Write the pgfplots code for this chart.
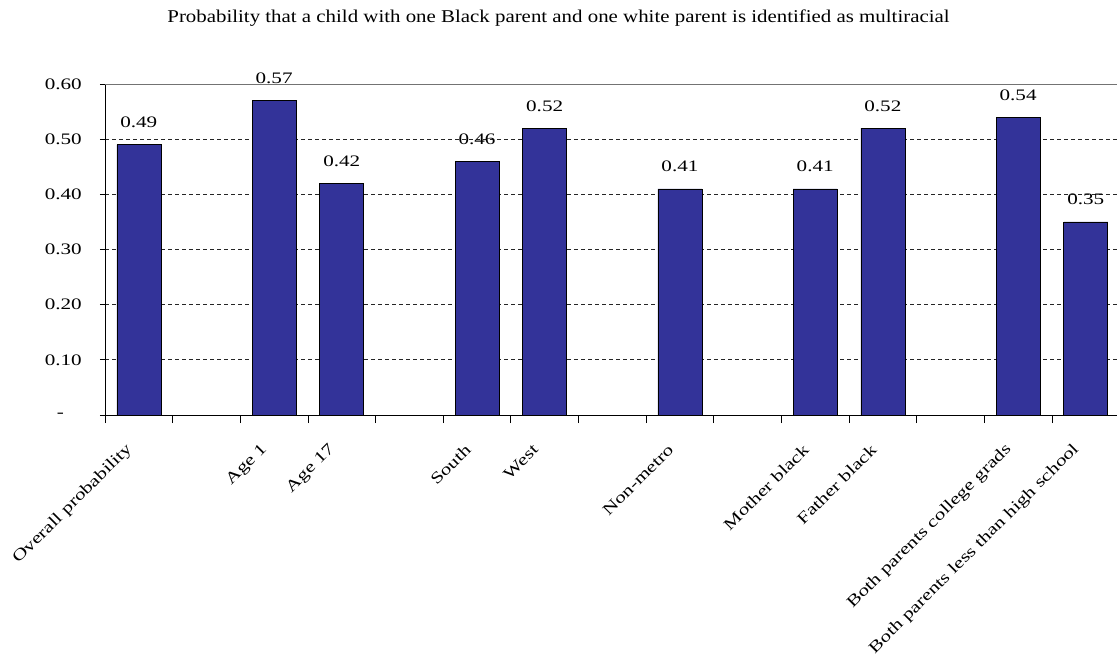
\documentclass[border=0pt]{standalone}
\usepackage{fontspec}
\setmainfont{Liberation Serif}[FakeStretch=1.32]
\newfontfamily\titlefont{Liberation Serif}[FakeStretch=1.16]
\usepackage{pgfplots}
\pgfplotsset{compat=1.18}
\definecolor{barblue}{HTML}{333399}
\begin{document}
\begin{tikzpicture}[x=1pt,y=1pt]
\begin{axis}[
  at={(105pt,252pt)}, anchor=south west,
  scale only axis, width=1014.6pt, height=331pt,
  xmin=-0.5, xmax=14.5, ymin=0, ymax=0.6,
  axis x line*=bottom, axis y line*=left,
  axis line style={black, line width=0.8pt},
  tick align=outside,
  major tick length=5pt, minor tick length=8pt,
  tick style={black, line width=0.8pt},
  ytick={0,0.1,0.2,0.3,0.4,0.5},
  yticklabels={\makebox[25pt][l]{-},0.10,0.20,0.30,0.40,0.50},
  extra y ticks={0.6}, extra y tick labels={0.60},
  extra y tick style={major grid style={solid, black!55, line width=0.8pt}},
  ymajorgrids,
  major grid style={black!85, line width=0.8pt, dash pattern=on 4pt off 3pt},
  xtick={0,...,14},
  xticklabels={Overall probability,,Age 1,Age 17,,South,West,,Non-metro,,Mother black,Father black,,Both parents college grads,Both parents less than high school},
  major x tick style={draw=none},
  minor xtick={-0.5,0.5,...,14.5},
  ticklabel style={font=\fontsize{16}{19}\selectfont},
  yticklabel style={anchor=east, inner sep=0pt, xshift=-18pt},
  xticklabel style={xshift=-9pt, yshift=-27pt, anchor=east, rotate=45, inner sep=0pt},
  ybar, bar width=44pt,
  nodes near coords,
  nodes near coords style={font=\fontsize{16}{19}\selectfont, anchor=base, inner sep=0pt, yshift=17pt},
  point meta=y,
  /pgf/number format/.cd, fixed, fixed zerofill, precision=2, assume math mode=true,
]
\addplot[draw=black, line width=0.6pt, fill=barblue] coordinates {
  (0,0.49) (2,0.57) (3,0.42) (5,0.46) (6,0.52) (8,0.41) (10,0.41) (11,0.52) (13,0.54) (14,0.35)
};
\end{axis}
\node[font=\titlefont\fontsize{18}{21}\selectfont] at (558.5pt,649pt) {Probability that a child with one Black parent and one white parent is identified as multiracial};
\pgfresetboundingbox
\path (0,0) rectangle (1117pt,667pt);
\end{tikzpicture}
\end{document}
